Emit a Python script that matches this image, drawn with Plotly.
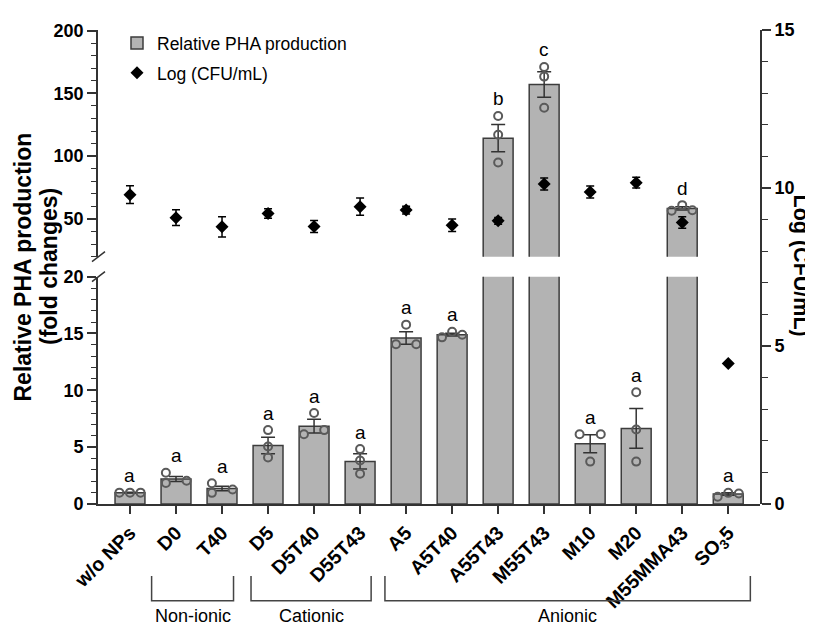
import plotly.graph_objects as go

# ---------------- data ----------------
categories = ["w/o NPs", "D0", "T40", "D5", "D5T40", "D55T43", "A5", "A5T40",
              "A55T43", "M55T43", "M10", "M20", "M55MMA43", "SO<sub>3</sub>5"]

pha_mean = [1.0, 2.2, 1.36, 5.15, 6.85, 3.75, 14.6, 14.9, 114.3, 157.0, 5.3, 6.65, 58.4, 0.88]
pha_sem = [0.03, 0.23, 0.2, 0.72, 0.6, 0.68, 0.55, 0.12, 10.8, 10.2, 0.8, 1.75, 1.3, 0.1]
pha_reps = [[1.0, 1.0, 1.0], [2.75, 1.85, 2.05], [1.83, 0.98, 1.27], [6.5, 5.06, 4.1],
            [6.13, 8.0, 6.5], [4.83, 3.82, 2.66], [15.78, 14.05, 14.05], [14.66, 15.15, 14.89],
            [132.0, 117.0, 95.0], [171.0, 163.3, 138.5], [6.13, 6.13, 3.73], [9.83, 6.56, 3.73],
            [56.5, 61.0, 57.0], [0.64, 0.98, 0.93]]
rep_jitter = [[-0.23, 0, 0.23], [-0.22, -0.22, 0.23], [-0.22, -0.22, 0.23], [0, 0, 0],
              [-0.22, 0, 0.22], [0, 0, 0], [0, -0.22, 0.22], [-0.22, 0, 0.22],
              [0, 0, 0], [0, 0, 0], [-0.23, 0.23, 0], [0, 0, 0],
              [-0.23, 0, 0.22], [-0.23, 0, 0.23]]

cfu_mean = [9.79, 9.06, 8.77, 9.19, 8.78, 9.41, 9.3, 8.82, 8.96, 10.13, 9.87, 10.17, 8.91, 4.45]
cfu_sem = [0.28, 0.25, 0.32, 0.15, 0.19, 0.27, 0.12, 0.2, 0.11, 0.19, 0.19, 0.17, 0.18, 0.0]

letters = ["a", "a", "a", "a", "a", "a", "a", "a", "b", "c", "a", "a", "d", "a"]

groups = [("Non-ionic", 0.47, 2.25), ("Cationic", 2.63, 5.24), ("Anionic", 5.54, 13.48)]

left_ticks_low = [0, 5, 10, 15, 20]
left_ticks_high = [50, 100, 150, 200]
right_ticks = [0, 5, 10, 15]

# ---------------- styling ----------------
FONT = "Arial, Liberation Sans, Helvetica, sans-serif"
AX = "#333333"
BAR_FILL = "#b3b3b3"
BAR_LINE = "#3c3c3c"
PT = "#5a5a5a"
BREAK = 20
PLOT_W = 662

idx = list(range(len(categories)))
px_ = []
py_ = []
for i, (reps, jit) in enumerate(zip(pha_reps, rep_jitter)):
    for v, j in zip(reps, jit):
        px_.append(i + j)
        py_.append(v)

fig = go.Figure()

for ax, show in (("y", True), ("y2", False)):
    fig.add_trace(go.Bar(
        x=idx, y=pha_mean, yaxis=ax, width=0.65,
        marker=dict(color=BAR_FILL, line=dict(color=BAR_LINE, width=1.5)),
        error_y=dict(type="data", array=pha_sem, visible=True, color=AX, thickness=1.5, width=7),
        name="Relative PHA production", showlegend=show, legendgroup="g1",
    ))
    fig.add_trace(go.Scatter(
        x=px_, y=py_, yaxis=ax, mode="markers",
        marker=dict(symbol="circle-open", size=8, color=PT, line=dict(width=2, color=PT)),
        showlegend=False, hoverinfo="skip",
    ))

fig.add_trace(go.Scatter(
    x=idx, y=cfu_mean, yaxis="y3", mode="markers",
    marker=dict(symbol="diamond", size=10, color="black"),
    error_y=dict(type="data", array=cfu_sem, visible=True, color="black", thickness=1.5, width=4),
    name="Log (CFU/mL)", legendgroup="g2",
))

# significance letters
for i, (reps, m, s, l) in enumerate(zip(pha_reps, pha_mean, pha_sem, letters)):
    top = max(max(reps), m + s)
    fig.add_annotation(x=i, y=top, xref="x", yref="y" if top < BREAK else "y2",
                       text=l, showarrow=False, yshift=17, yanchor="middle",
                       font=dict(family=FONT, size=19, color="black"))

# group brackets
for name, a, b in groups:
    fig.add_shape(type="path", xref="x", yref="paper",
                  path=f"M {a},-0.152 L {a},-0.204 L {b},-0.204 L {b},-0.152",
                  line=dict(color="#444444", width=1.5))
    fig.add_annotation(x=(a + b) / 2, y=-0.237, xref="x", yref="paper", text=name,
                       showarrow=False, yanchor="middle",
                       font=dict(family=FONT, size=18, color="black"))

# axis break marks
for yr, anc in (("y domain", 1), ("y2 domain", 0)):
    fig.add_shape(type="line", xref="paper", yref=yr, xsizemode="pixel", ysizemode="pixel",
                  xanchor=0, yanchor=anc, x0=-6, x1=7, y0=-5, y1=5,
                  line=dict(color=AX, width=1.5))

# axis titles
fig.add_annotation(x=(22.5 - 98) / PLOT_W, y=0.5, xref="paper", yref="paper",
                   text="<b>Relative PHA production</b>", textangle=-90, showarrow=False,
                   xanchor="center", yanchor="middle", font=dict(family=FONT, size=23, color="black"))
fig.add_annotation(x=(49 - 98) / PLOT_W, y=0.5, xref="paper", yref="paper",
                   text="<b>(fold changes)</b>", textangle=-90, showarrow=False,
                   xanchor="center", yanchor="middle", font=dict(family=FONT, size=23, color="black"))
fig.add_annotation(x=(801 - 98) / PLOT_W, y=0.503, xref="paper", yref="paper",
                   text="<b>Log (CFU/mL)</b>", textangle=90, showarrow=False,
                   xanchor="center", yanchor="middle", font=dict(family=FONT, size=21.5, color="black"))

tickfont = dict(family=FONT, size=18, color="black", weight="bold")
common = dict(showgrid=False, zeroline=False, showline=True, linecolor=AX, linewidth=1.6,
              ticks="outside", ticklen=9, tickwidth=1.5, tickcolor=AX, tickfont=tickfont)

fig.update_layout(
    width=813, height=627,
    margin=dict(l=90, r=61, t=15, b=131),
    paper_bgcolor="white", plot_bgcolor="rgba(0,0,0,0)",
    font=dict(family=FONT, color="black"),
    xaxis=dict(range=[-0.695, 13.69], tickmode="array", tickvals=idx,
               ticktext=[f"<b>{c}</b>" for c in categories], tickangle=-45,
               showgrid=False, zeroline=False, showline=True, linecolor=AX, linewidth=1.6,
               ticks="outside", ticklen=8, tickwidth=1.5, tickcolor=AX,
               tickfont=dict(family=FONT, size=19.5, color="black"), anchor="y"),
    yaxis=dict(domain=[0, 0.4796], range=[0, 20], tickmode="array", tickvals=left_ticks_low,
               minor=dict(dtick=1, tick0=0, ticks="outside", ticklen=5, tickwidth=1.3, tickcolor=AX, showgrid=False),
               anchor="x", **common),
    yaxis2=dict(domain=[0.5218, 1], range=[20, 200.4], tickmode="array", tickvals=left_ticks_high,
                minor=dict(dtick=10, tick0=0, ticks="outside", ticklen=5, tickwidth=1.3, tickcolor=AX, showgrid=False),
                anchor="x", **common),
    yaxis3=dict(domain=[0, 1], range=[0, 15], tickmode="array", tickvals=right_ticks, side="right",
                minor=dict(dtick=1, tick0=0, ticks="outside", ticklen=6, tickwidth=1.3, tickcolor=AX, showgrid=False),
                anchor="x", **common),
    legend=dict(x=0.0287, y=1.0104, xanchor="left", yanchor="top", bgcolor="rgba(0,0,0,0)",
                font=dict(family=FONT, size=17.5, color="black"), tracegroupgap=4,
                traceorder="grouped"),
    showlegend=True,
)

fig.write_html("out.html")
